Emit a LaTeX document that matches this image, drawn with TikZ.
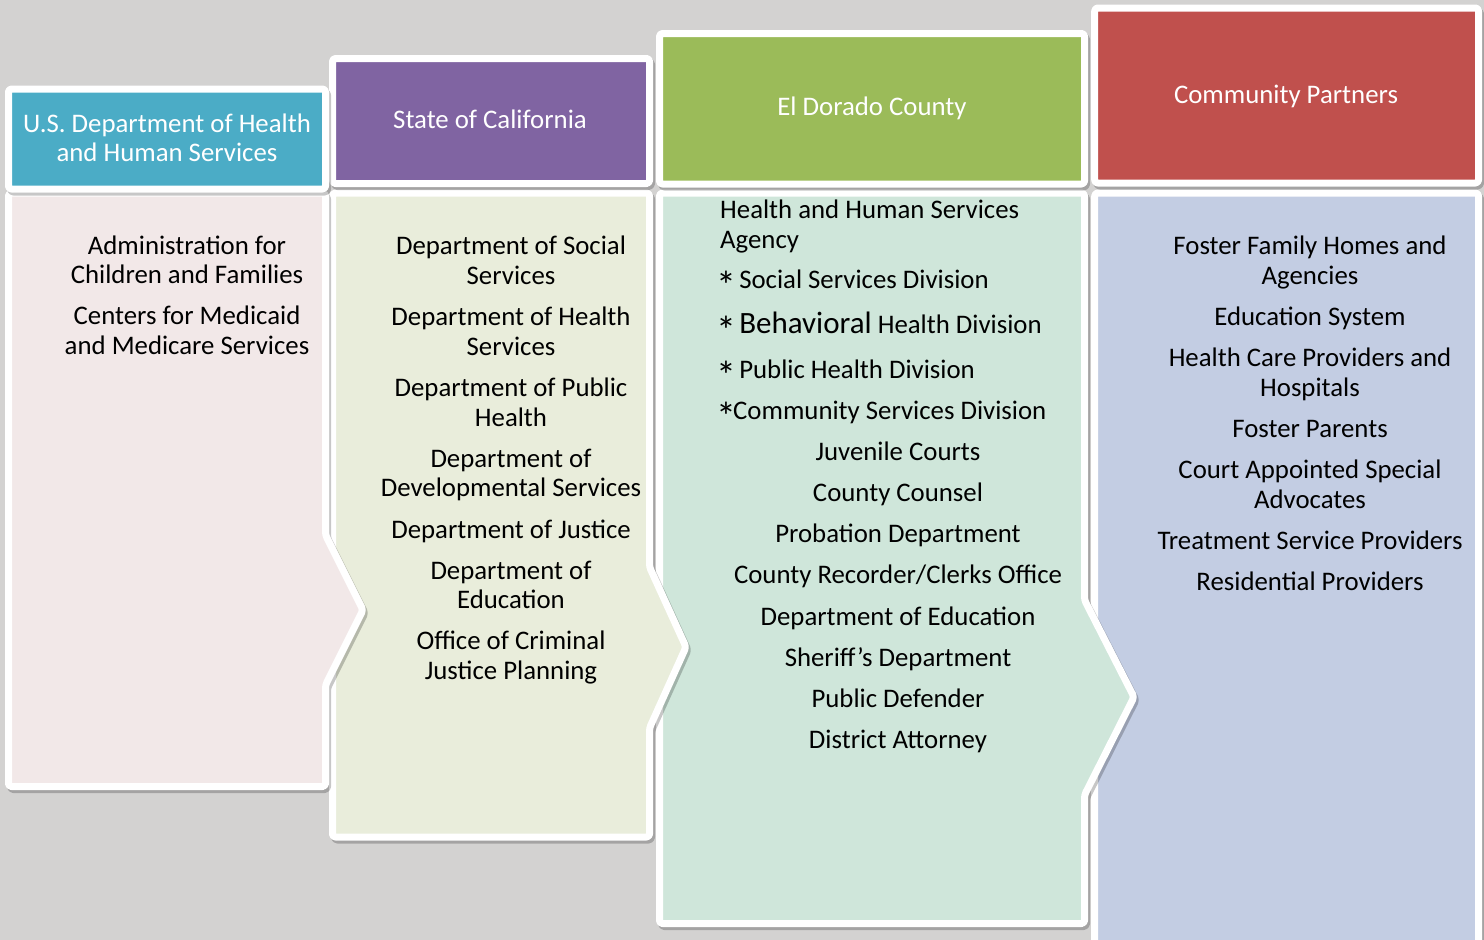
\documentclass[tikz,border=0pt]{standalone}
\usepackage{fontspec}
\setmainfont{Carlito}
\definecolor{bgc}{HTML}{D3D2D1}
\definecolor{h1c}{HTML}{4BACC6}
\definecolor{h2c}{HTML}{8064A2}
\definecolor{h3c}{HTML}{9BBB59}
\definecolor{h4c}{HTML}{C0504D}
\definecolor{b1c}{HTML}{F2E8E8}
\definecolor{b2c}{HTML}{E9EDDB}
\definecolor{b3c}{HTML}{CFE6DA}
\definecolor{b4c}{HTML}{C3CDE3}
\newcommand\myast{\makebox[13pt][c]{\raisebox{-11pt}{\fontsize{40}{40}\selectfont *}}}
\tikzset{
  txt/.style={inner sep=0pt, font=\fontsize{26.8}{29}\selectfont, text=black, anchor=base},
  htxt/.style={txt, text=white},
  ltxt/.style={txt, anchor=base west},
  wframe/.style={draw=white, line width=7pt, line join=round, rounded corners=3pt},
  shad/.style={fill=black, draw=black, line width=7pt, line join=round, rounded corners=3pt, opacity=0.22},
  bodyone/.style={insert path={(8.5,193) -- (325.5,193) -- (325.5,535) -- (363,610) -- (325.5,685) -- (325.5,786.5) -- (8.5,786.5) -- cycle}},
  bodytwo/.style={insert path={(332.5,193) -- (649.5,193) -- (649.5,567) -- (686,647) -- (649.5,728) -- (649.5,837) -- (332.5,837) -- cycle}},
  bodythree/.style={insert path={(659.5,193) -- (1084.5,193) -- (1084.5,600) -- (1134,697) -- (1084.5,795) -- (1084.5,923.5) -- (659.5,923.5) -- cycle}},
  bodyfour/.style={insert path={(1094.7,193) -- (1478.5,193) -- (1478.5,960) -- (1094.7,960) -- cycle}},
  hdrone/.style={insert path={(8.5,89) rectangle (325.5,189)}},
  hdrtwo/.style={insert path={(332.5,58.5) rectangle (649.5,183.5)}},
  hdrthree/.style={insert path={(659.5,33.5) rectangle (1084.5,184)}},
  hdrfour/.style={insert path={(1094.7,8) rectangle (1478.5,183)}},
}
\begin{document}
\begin{tikzpicture}[x=1pt,y=-1pt]
\useasboundingbox (0,0) rectangle (1484,940);
\fill[bgc] (0,0) rectangle (1484,940);
\begin{scope}
\clip (0,0) rectangle (1484,940);
% bodies, right to left
\path[shad, shift={(2,3)}, bodyfour];
\fill[b4c, bodyfour];
\draw[wframe, bodyfour];
\path[shad, shift={(2,3)}, bodythree];
\fill[b3c, bodythree];
\draw[wframe, bodythree];
\path[shad, shift={(2,3)}, bodytwo];
\fill[b2c, bodytwo];
\draw[wframe, bodytwo];
\path[shad, shift={(2,3)}, bodyone];
\fill[b1c, bodyone];
\draw[wframe, bodyone];
% headers
\path[shad, shift={(2,3)}, hdrfour];
\fill[h4c, hdrfour];
\draw[wframe, hdrfour];
\path[shad, shift={(2,3)}, hdrthree];
\fill[h3c, hdrthree];
\draw[wframe, hdrthree];
\path[shad, shift={(2,3)}, hdrtwo];
\fill[h2c, hdrtwo];
\draw[wframe, hdrtwo];
\path[shad, shift={(2,3)}, hdrone];
\fill[h1c, hdrone];
\draw[wframe, hdrone];
\end{scope}
% header texts
\node[htxt] (h1a) at (167,132) {U.S. Department of Health};
\node[htxt] (h1b) at (167,161) {and Human Services};
\node[htxt] (h2) at (490,128) {State of California};
\node[htxt] (h3) at (872,115) {El Dorado County};
\node[htxt] (h4) at (1286,103) {Community Partners};
% column 1
\node[txt] (a1) at (187,254) {Administration for};
\node[txt] (a2) at (187,283) {Children and Families};
\node[txt] (a3) at (187,324) {Centers for Medicaid};
\node[txt] (a4) at (187,354) {and Medicare Services};
% column 2
\node[txt] (b1) at (511,254) {Department of Social};
\node[txt] (b2) at (511,284) {Services};
\node[txt] (b3) at (511,325) {Department of Health};
\node[txt] (b4) at (511,355) {Services};
\node[txt] (b5) at (511,396) {Department of Public};
\node[txt] (b6) at (511,426) {Health};
\node[txt] (b7) at (511,467) {Department of};
\node[txt] (b8) at (511,496) {Developmental Services};
\node[txt] (b9) at (511,538) {Department of Justice};
\node[txt] (b10) at (511,579) {Department of};
\node[txt] (b11) at (511,608) {Education};
\node[txt] (b12) at (511,649) {Office of Criminal};
\node[txt] (b13) at (511,679) {Justice Planning};
% column 3
\node[ltxt] (c1) at (720,218) {Health and Human Services};
\node[ltxt] (c2) at (720,248) {Agency};
\node[ltxt] (c3) at (720,288) {\myast{} Social Services Division};
\node[ltxt] (c4) at (720,333) {\myast{} {\fontsize{31}{31}\selectfont Behavioral} Health Division};
\node[ltxt] (c5) at (720,378) {\myast{} Public Health Division};
\node[ltxt] (c6) at (720,419) {\myast{}Community Services Division};
\node[txt] (c7) at (898,460) {Juvenile Courts};
\node[txt] (c8) at (898,501) {County Counsel};
\node[txt] (c9) at (898,542) {Probation Department};
\node[txt] (c10) at (898,583) {County Recorder/Clerks Office};
\node[txt] (c11) at (898,625) {Department of Education};
\node[txt] (c12) at (898,666) {Sheriff’s Department};
\node[txt] (c13) at (898,707) {Public Defender};
\node[txt] (c14) at (898,748) {District Attorney};
% column 4
\node[txt] (d1) at (1310,254) {Foster Family Homes and};
\node[txt] (d2) at (1310,284) {Agencies};
\node[txt] (d3) at (1310,325) {Education System};
\node[txt] (d4) at (1310,366) {Health Care Providers and};
\node[txt] (d5) at (1310,396) {Hospitals};
\node[txt] (d6) at (1310,437) {Foster Parents};
\node[txt] (d7) at (1310,478) {Court Appointed Special};
\node[txt] (d8) at (1310,508) {Advocates};
\node[txt] (d9) at (1310,549) {Treatment Service Providers};
\node[txt] (d10) at (1310,590) {Residential Providers};
\end{tikzpicture}
\end{document}
